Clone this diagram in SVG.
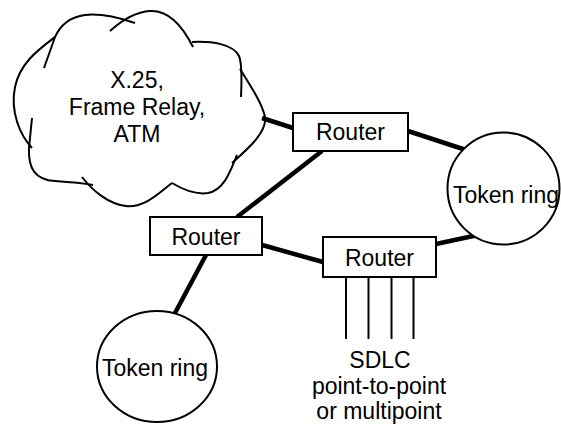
<svg xmlns="http://www.w3.org/2000/svg" width="561" height="425" viewBox="0 0 561 425">
  <style>
    .box { fill: #fff; stroke: #000; stroke-width: 2; }
    .ring { fill: #fff; stroke: #000; stroke-width: 2; }
    .cloud path { fill: none; stroke: #000; stroke-width: 2; }
    .link { stroke: #000; stroke-width: 4.5; fill: none; }
    .drop { stroke: #000; stroke-width: 2; }
    text { font-family: "Liberation Sans", Arial, sans-serif; font-size: 23px; fill: #000; text-anchor: middle; }
  </style>
  <rect width="561" height="425" fill="#fff"/>

  <!-- links between nodes -->
  <g id="connectors">
    <line class="link" x1="262" y1="118" x2="293" y2="128"/>
    <line class="link" x1="408" y1="131" x2="466" y2="150"/>
    <line class="link" x1="322" y1="151" x2="237" y2="217"/>
    <line class="link" x1="262" y1="245" x2="323" y2="262"/>
    <line class="link" x1="436" y1="244" x2="478" y2="235"/>
    <line class="link" x1="206" y1="255" x2="175" y2="313"/>
    <line class="drop" x1="346" y1="277" x2="346" y2="339"/>
    <line class="drop" x1="368.5" y1="277" x2="368.5" y2="339"/>
    <line class="drop" x1="391.5" y1="277" x2="391.5" y2="339"/>
    <line class="drop" x1="413.5" y1="277" x2="413.5" y2="339"/>
  </g>

  <!-- WAN cloud built from overlapping arcs -->
  <g id="wan" class="cloud">
    <path d="M44,68 L55,37 C60,26 70,17 85,15 C102,13 120,18 135,23"/>
    <path d="M110,31 C120,22 133,12 150,11 C168,10 182,25 193,47"/>
    <path d="M192,42 C212,41 233,44 239,56 C242,63 242,75 241,97"/>
    <path d="M240,69 C250,85 262,103 265,117 C267,132 250,147 232,163"/>
    <path d="M237,155 C230,172 224,190 208,193 C195,195 182,189 172,183"/>
    <path d="M172,183 C160,192 145,208 126,206 C108,204 92,190 82,177"/>
    <path d="M32,118 L29,148 C28,168 35,180 55,181 C70,182 82,183 93,185"/>
    <path d="M55,37 C38,50 20,63 15,87 C10,112 20,135 32,148"/>
    <text x="137" y="88">X.25,</text>
    <text x="137" y="115">Frame Relay,</text>
    <text x="137" y="142">ATM</text>
  </g>

  <g id="router-top">
    <rect class="box" x="293" y="113" width="115" height="38"/>
    <text x="350.5" y="140">Router</text>
  </g>

  <g id="router-left">
    <rect class="box" x="150" y="217" width="112" height="38"/>
    <text x="206" y="245">Router</text>
  </g>

  <g id="router-bottom">
    <rect class="box" x="323" y="237" width="113" height="40"/>
    <text x="379.5" y="266">Router</text>
  </g>

  <g id="ring-right">
    <circle class="ring" cx="503.5" cy="188.5" r="56"/>
    <text x="506" y="203">Token ring</text>
  </g>

  <g id="ring-left">
    <ellipse class="ring" cx="157" cy="366.5" rx="60" ry="55.5"/>
    <text x="155" y="376">Token ring</text>
  </g>

  <g id="sdlc-label">
    <text x="380" y="368">SDLC</text>
    <text x="379" y="394">point-to-point</text>
    <text x="379" y="419">or multipoint</text>
  </g>
</svg>
